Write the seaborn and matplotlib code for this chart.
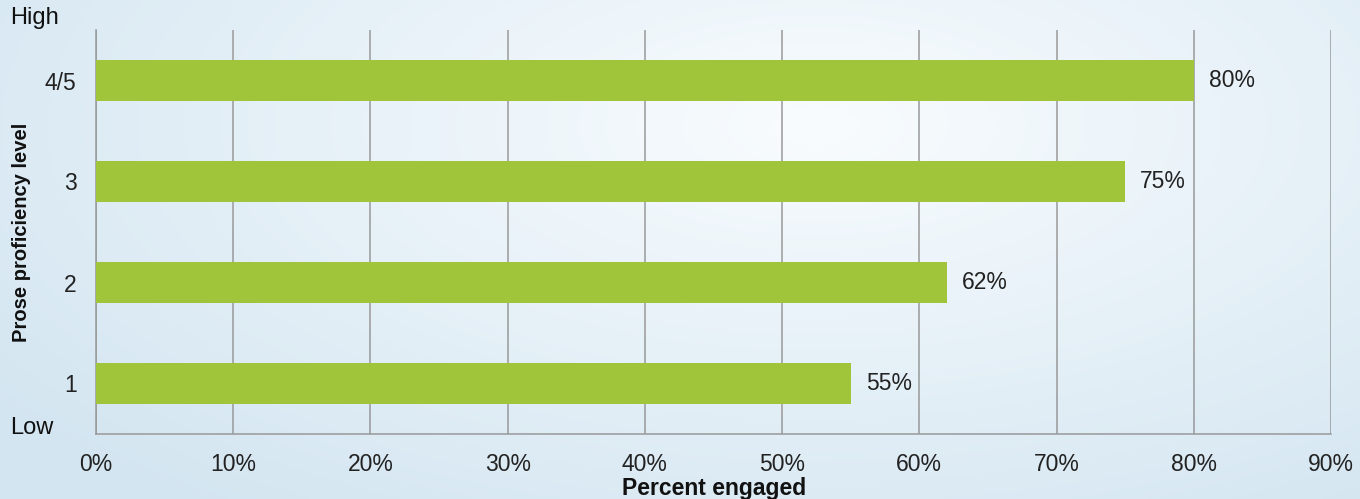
import numpy as np
import matplotlib
matplotlib.use("Agg")
import matplotlib.pyplot as plt
import seaborn as sns
import pandas as pd

levels = ["4/5", "3", "2", "1"]
values = [80, 75, 62, 55]
xticks = [0, 10, 20, 30, 40, 50, 60, 70, 80, 90]

sns.set_style("white")
plt.rcParams['font.family'] = ['Liberation Sans', 'DejaVu Sans']

fig = plt.figure(figsize=(13.6, 4.99), dpi=100)

# background gradient
bg = fig.add_axes([0, 0, 1, 1], zorder=-10)
h, w = 200, 400
yy, xx = np.mgrid[0:1:h*1j, 0:1:w*1j]
c_light = np.array([0.975, 0.988, 0.997])
c_blue = np.array([0.83, 0.90, 0.945])
d = np.clip(np.sqrt(((xx - 0.6) / 0.75) ** 2 + ((yy - 0.25) / 0.95) ** 2), 0, 1)
img = c_light[None, None, :] * (1 - d[..., None]) + c_blue[None, None, :] * d[..., None]
bg.imshow(img, aspect='auto', extent=[0, 1, 0, 1], origin='upper')
bg.axis('off')

ax = fig.add_axes([96/1360, 1 - 434/499, (1331-96)/1360, (434-30)/499])
ax.patch.set_alpha(0)

df = pd.DataFrame({"level": levels, "value": values})
sns.barplot(data=df, x="value", y="level", order=levels, orient="h",
            color="#a0c43a", saturation=1, width=0.4, linewidth=0,
            ax=ax, zorder=3)

ax.set_xlim(0, 90)
ax.set_ylim(3.5, -0.5)
ax.set_xticks(xticks)
ax.set_xticklabels([f"{t}%" for t in xticks], fontsize=16.5, color="#222222")
ax.tick_params(axis='x', length=7, width=1.1, color="#999999", pad=7, direction='out')
ax.tick_params(axis='y', length=0, pad=14, labelsize=16.5, labelcolor="#222222")
ax.xaxis.grid(True, color="#999999", linewidth=1.1, zorder=0)
ax.yaxis.grid(False)
ax.set_axisbelow(True)
for s in ["top", "right"]:
    ax.spines[s].set_visible(False)
for s in ["left", "bottom"]:
    ax.spines[s].set_color("#999999")
    ax.spines[s].set_linewidth(1.1)

for i, v in enumerate(values):
    ax.text(v + 1.1, i, f"{v}%", va="center", ha="left", fontsize=16.5, color="#222222")

ax.set_xlabel("")
ax.set_ylabel("")
fig.text(714/1360, 1 - 488/499, "Percent engaged", fontsize=16.5, fontweight="bold",
         ha="center", va="center", color="#111111")
fig.text(22/1360, 1 - 232/499, "Prose proficiency level", fontsize=14.5, fontweight="bold",
         ha="center", va="center", rotation=90, color="#111111")

fig.text(10/1360, 1 - 18/499, "High", fontsize=17, va="center", ha="left", color="#111111")
fig.text(10/1360, 1 - 428/499, "Low", fontsize=17, va="center", ha="left", color="#111111")

fig.savefig("out.png", dpi=100)
